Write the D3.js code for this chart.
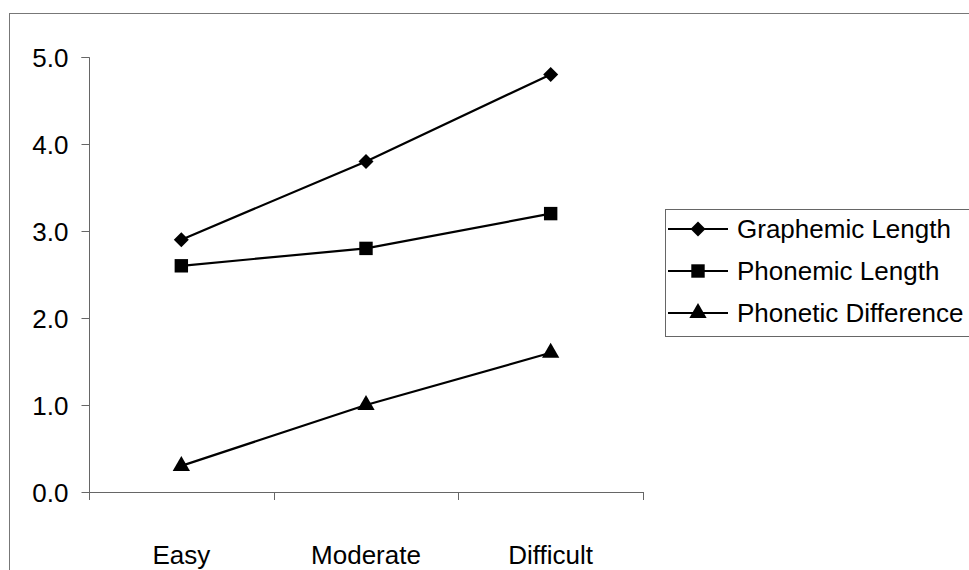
<!DOCTYPE html>
<html><head><meta charset="utf-8">
<script src="https://cdn.jsdelivr.net/npm/d3@7/dist/d3.min.js"></script>
<style>body{margin:0;background:#fff}svg{display:block}text{font-family:"Liberation Sans",Arial,sans-serif}</style>
</head><body><svg id="c" width="969" height="570"></svg>
<script>
const categories = ["Easy", "Moderate", "Difficult"];
const graphemicLength = [2.9, 3.8, 4.8];
const phonemicLength = [2.6, 2.8, 3.2];
const phoneticDifference = [0.3, 1.0, 1.6];
const seriesNames = ["Graphemic Length", "Phonemic Length", "Phonetic Difference"];
const yTicks = [0, 1, 2, 3, 4, 5];

const FONT = '"Liberation Sans",Arial,sans-serif';
const FS = 26;
const wideDiamond = {draw(ctx, size) { const r = Math.sqrt(size) / 2; ctx.moveTo(0, -r); ctx.lineTo(r, 0); ctx.lineTo(0, r); ctx.lineTo(-r, 0); ctx.closePath(); }};
const series = [
  {name: seriesNames[0], values: graphemicLength, sym: wideDiamond, size: 225},
  {name: seriesNames[1], values: phonemicLength, sym: d3.symbolSquare, size: 180},
  {name: seriesNames[2], values: phoneticDifference, sym: d3.symbolTriangle, size: 130}
];

const svg = d3.select("#c");
svg.append("rect").attr("x", 9.5).attr("y", 13.5).attr("width", 990).attr("height", 600)
  .attr("fill", "none").attr("stroke", "#777").attr("stroke-width", 1);

const x = d3.scaleBand().domain(categories).range([89, 643]);
const y = d3.scaleLinear().domain([0, 5]).range([492, 57]);

const yAxis = svg.append("g").attr("transform", "translate(89.5,0)")
  .call(d3.axisLeft(y).tickValues(yTicks).tickFormat(d3.format(".1f")).tickSize(8).tickPadding(13));
yAxis.select(".domain").attr("stroke", "#666").attr("d", `M-8,${y(5)+0.5}H0V${y(0)+0.5}`);
yAxis.selectAll(".tick line").attr("stroke", "#666");
yAxis.selectAll("text").attr("font-size", FS).attr("fill", "#000").attr("font-family", FONT).attr("dy", "0.36em");

const xAxis = svg.append("g").attr("transform", `translate(0,${y(0)+0.5})`)
  .call(d3.axisBottom(x).tickSize(0).tickPadding(53));
xAxis.select(".domain").attr("stroke", "#666").attr("d", "M89,0H643");
xAxis.selectAll("text").attr("font-size", FS).attr("fill", "#000").attr("font-family", FONT);
const bounds = [89, ...categories.map(c => x(c) + x.bandwidth())];
svg.append("g").selectAll("line").data(bounds).join("line")
  .attr("x1", d => Math.round(d) + 0.5).attr("x2", d => Math.round(d) + 0.5)
  .attr("y1", y(0)).attr("y2", y(0) + 8).attr("stroke", "#666");

const cx = c => x(c) + x.bandwidth() / 2;
const line = d3.line().x((d, i) => cx(categories[i])).y(d => y(d));

series.forEach(s => {
  svg.append("path").attr("d", line(s.values)).attr("fill", "none")
    .attr("stroke", "#000").attr("stroke-width", 2.2);
  svg.append("g").selectAll("path").data(s.values).join("path")
    .attr("transform", (d, i) => `translate(${cx(categories[i])},${y(d)})`)
    .attr("d", d3.symbol().type(s.sym).size(s.size)).attr("fill", "#000");
});

const lg = svg.append("g");
lg.append("rect").attr("x", 665.5).attr("y", 209.5).attr("width", 320).attr("height", 127)
  .attr("fill", "#fff").attr("stroke", "#666");
series.forEach((s, i) => {
  const yy = 229 + i * 42;
  lg.append("line").attr("x1", 668).attr("x2", 728).attr("y1", yy).attr("y2", yy)
    .attr("stroke", "#000").attr("stroke-width", 2.2);
  lg.append("path").attr("transform", `translate(698,${yy})`)
    .attr("d", d3.symbol().type(s.sym).size(s.size)).attr("fill", "#000");
  lg.append("text").attr("x", 737).attr("y", yy).attr("dy", "0.36em").attr("font-size", FS).attr("font-family", FONT).text(s.name);
});
</script></body></html>
